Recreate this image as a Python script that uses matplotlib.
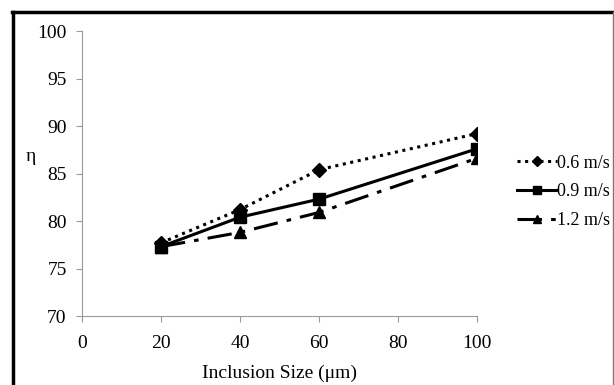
import matplotlib.pyplot as plt
from matplotlib.lines import Line2D

plt.rcParams['font.family'] = ['Liberation Serif', 'DejaVu Serif']

size = [20, 40, 60, 100]
eta_06 = [77.7, 81.2, 85.4, 89.2]
eta_09 = [77.3, 80.4, 82.3, 87.6]
eta_12 = [77.3, 78.8, 80.9, 86.6]
labels = ["0.6 m/s", "0.9 m/s", "1.2 m/s"]

W, H = 614, 385
fig = plt.figure(figsize=(W / 100, H / 100), dpi=100)
ax = fig.add_axes([82 / W, (H - 316) / H, (477 - 82) / W, (316 - 31) / H])

ax.plot(size, eta_06, color="black", linestyle=(0, (1, 1.5)), lw=2.2,
        marker="D", ms=7, label=labels[0])
ax.plot(size, eta_09, color="black", linestyle="-", lw=2.2,
        marker="s", ms=8, label=labels[1])
ax.plot(size, eta_12, color="black", linestyle=(0, (8, 3, 1.5, 3)), lw=2.2,
        marker="^", ms=8, label=labels[2])

ax.set_xlim(0, 100)
ax.set_ylim(70, 100)
ax.set_xticks([0, 20, 40, 60, 80, 100])
ax.set_yticks([70, 75, 80, 85, 90, 95, 100])
for s in ["top", "right"]:
    ax.spines[s].set_visible(False)
for s in ["left", "bottom"]:
    ax.spines[s].set_color("#999999")
ax.tick_params(colors="#999999", labelcolor="black", labelsize=14, length=4)
ax.tick_params(axis="x", pad=10)
ax.tick_params(axis="y", pad=7)

ax.set_xlabel("Inclusion Size (μm)", fontsize=14, labelpad=9)
ax.set_ylabel("η", fontsize=14, rotation=0, va="center")
ax.yaxis.set_label_coords(-0.13, 0.56)

leg = ax.legend(loc="center left", bbox_to_anchor=(1.083, 0.436), frameon=False,
                fontsize=13, handlelength=2.2, handletextpad=0.0,
                labelspacing=0.65, borderaxespad=0, markerscale=0.8)

# figure border: thick left/top, thin grey right
fig.add_artist(Line2D([12.5 / W, 12.5 / W], [0, 1 - 12 / H], color="black", lw=2.5))
fig.add_artist(Line2D([11.5 / W, 1], [1 - 12 / H, 1 - 12 / H], color="black", lw=2.5))
fig.add_artist(Line2D([612.5 / W, 612.5 / W], [0, 1 - 12 / H], color="#777777", lw=1))

fig.savefig("out.png", dpi=100)
